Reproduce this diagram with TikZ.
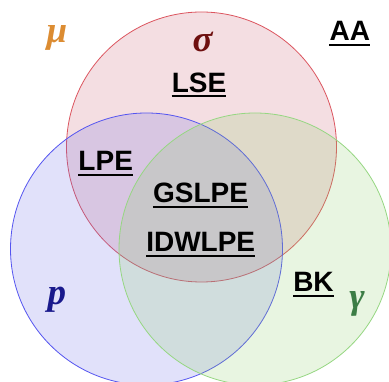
\documentclass[tikz,border=0pt]{standalone}
\usepackage{fontspec}
\newfontfamily\sansf{Liberation Sans}
\newfontfamily\seriff{Liberation Serif}
\definecolor{fR}{RGB}{200,90,110}
\definecolor{fB}{RGB}{105,105,230}
\definecolor{fG}{RGB}{140,205,105}
\definecolor{sR}{RGB}{220,85,95}
\definecolor{sB}{RGB}{85,85,240}
\definecolor{sG}{RGB}{150,215,130}
\definecolor{cMu}{RGB}{220,140,50}
\definecolor{cSig}{RGB}{110,15,15}
\definecolor{cP}{RGB}{25,25,140}
\definecolor{cGam}{RGB}{60,125,70}
\begin{document}
\begin{tikzpicture}[x=1pt,y=-1pt,
  lab/.style={inner sep=0pt, anchor=base, font=\sansf\bfseries\fontsize{28}{30}\selectfont},
  greek/.style={inner sep=0pt, anchor=base, font=\seriff\bfseries\itshape\fontsize{37}{40}\selectfont},
  ul/.style={line width=2pt},
  ring/.style={line width=0.8pt, fill opacity=0.2}]
\useasboundingbox (0,0) rectangle (389,382);
\clip (0,0) rectangle (389,382);
\fill[white] (0,0) rectangle (389,382);
\filldraw[ring, fill=fR, draw=sR] (201.5,147) circle (135);
\filldraw[ring, fill=fB, draw=sB] (146.5,249) circle (136);
\filldraw[ring, fill=fG, draw=sG] (255,249) circle (136);
\node[lab] (lse) at (199,92.5) {LSE};
\node[lab] (lpe) at (105.7,171) {LPE};
\node[lab] (gslpe) at (200.5,203) {GSLPE};
\node[lab] (idw) at (200.7,252) {IDWLPE};
\node[lab] (bk) at (313.5,292) {BK};
\node[lab] (aa) at (349.8,41) {AA};
\foreach \n in {lse,lpe,gslpe,idw,bk,aa}
  \draw[ul] ([yshift=-4pt]\n.base west) -- ([yshift=-4pt]\n.base east);
\node[greek, text=cMu] (mu) at (57,43) {μ};
\node[greek, text=cSig] (sig) at (202.5,52) {σ};
\node[greek, text=cP] (p) at (57,305) {p};
\node[greek, text=cGam] (gam) at (357,309) {γ};
\end{tikzpicture}
\end{document}
